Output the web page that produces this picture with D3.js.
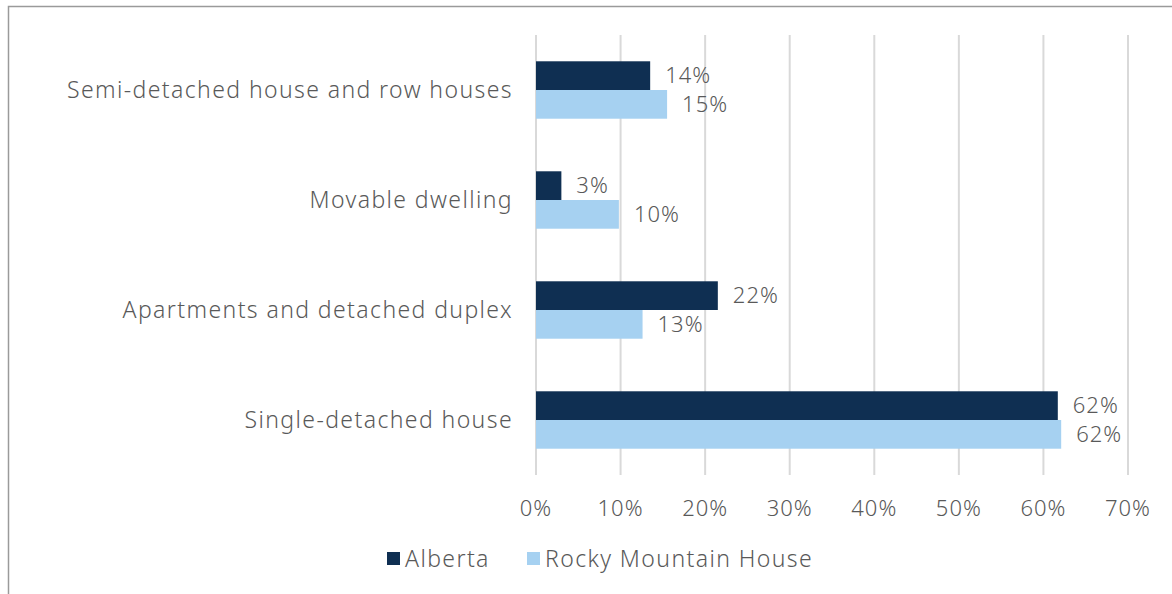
<!DOCTYPE html>
<html>
<head>
<meta charset="utf-8">
<script src="https://cdn.jsdelivr.net/npm/d3@7"></script>
<style>
  body { margin: 0; background: #fff; }
  text { font-family: "Noto Sans", sans-serif; font-weight: 300; fill: #595959; font-size: 22px; letter-spacing: 1px; }
  .cat, .leg { font-size: 23px; letter-spacing: 1.4px; }
</style>
</head>
<body>
<div id="chart"></div>
<script>
// categories, top to bottom
const categories = ["Semi-detached house and row houses", "Movable dwelling", "Apartments and detached duplex", "Single-detached house"];
const seriesNames = ["Alberta", "Rocky Mountain House"];
const alberta = [0.135, 0.030, 0.215, 0.617];
const rocky = [0.155, 0.098, 0.126, 0.621];
const albertaLabels = ["14%", "3%", "22%", "62%"];
const rockyLabels = ["15%", "10%", "13%", "62%"];
const ticks = [0, 0.1, 0.2, 0.3, 0.4, 0.5, 0.6, 0.7];
const colors = ["#0f2f52", "#a6d1f1"];

const width = 1172, height = 594;
const svg = d3.select("#chart").append("svg")
  .attr("width", width)
  .attr("height", height);

// chart border (runs off right/bottom edge)
svg.append("rect")
  .attr("x", 8.5).attr("y", 6.5)
  .attr("width", 1200).attr("height", 700)
  .attr("fill", "none")
  .attr("stroke", "#9a9a9a")
  .attr("stroke-width", 1.5);

let x = d3.scaleLinear().domain([0, 0.7]).range([536, 1128]);
let y = d3.scaleBand().domain(categories).range([35, 475])
  .paddingInner(0.478).paddingOuter(0.239);
let sub = d3.scaleBand().domain(seriesNames).range([0, y.bandwidth()]);

// gridlines
svg.append("g").selectAll("line")
  .data(ticks)
  .enter().append("line")
    .attr("x1", d => x(d)).attr("x2", d => x(d))
    .attr("y1", 35).attr("y2", 475)
    .attr("stroke", "#d9d9d9")
    .attr("stroke-width", 2);

// x tick labels
svg.append("g").selectAll("text")
  .data(ticks)
  .enter().append("text")
    .attr("x", d => x(d))
    .attr("y", 508)
    .attr("dy", "0.35em")
    .attr("text-anchor", "middle")
    .text(d3.format(".0%"));

// category labels
svg.append("g").selectAll("text")
  .data(categories)
  .enter().append("text")
    .attr("class", "cat")
    .attr("x", 513)
    .attr("y", d => y(d) + y.bandwidth() / 2)
    .attr("dy", "0.35em")
    .attr("text-anchor", "end")
    .text(d => d);

const series = [
  { name: seriesNames[0], values: alberta, labels: albertaLabels, color: colors[0] },
  { name: seriesNames[1], values: rocky, labels: rockyLabels, color: colors[1] }
];

series.forEach(s => {
  let rows = categories.map((c, i) => ({ cat: c, v: s.values[i], label: s.labels[i] }));

  svg.append("g").selectAll("rect")
    .data(rows)
    .enter().append("rect")
      .attr("x", x(0))
      .attr("y", d => y(d.cat) + sub(s.name))
      .attr("width", d => x(d.v) - x(0))
      .attr("height", sub.bandwidth())
      .attr("fill", s.color);

  svg.append("g").selectAll("text")
    .data(rows)
    .enter().append("text")
      .attr("x", d => x(d.v) + 15)
      .attr("y", d => y(d.cat) + sub(s.name) + sub.bandwidth() / 2)
      .attr("dy", "0.35em")
      .text(d => d.label);
});

// legend
let legendX = [387, 527];
let legend = svg.append("g").selectAll("g")
  .data(series)
  .enter().append("g")
    .attr("transform", (d, i) => "translate(" + legendX[i] + ",558.5)");
legend.append("rect")
  .attr("x", 0).attr("y", -6.5)
  .attr("width", 13).attr("height", 13)
  .attr("fill", d => d.color);
legend.append("text")
  .attr("class", "leg")
  .attr("x", 18)
  .attr("dy", "0.35em")
  .text(d => d.name);
</script>
</body>
</html>
